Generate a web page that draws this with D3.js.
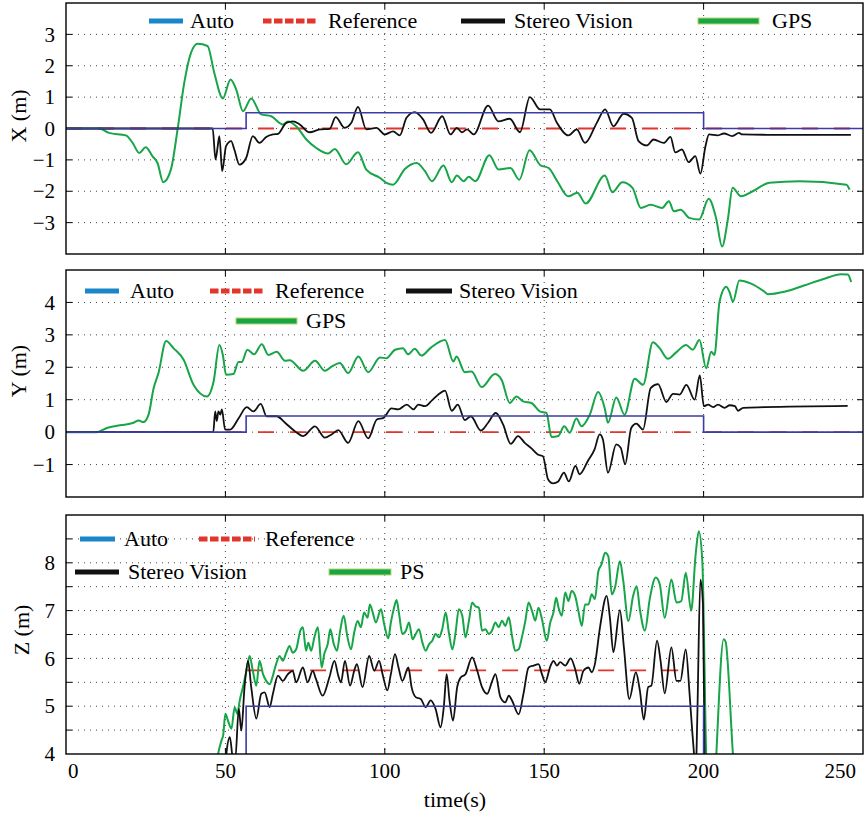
<!DOCTYPE html>
<html><head><meta charset="utf-8">
<script src="https://cdn.jsdelivr.net/npm/d3@7"></script>
<style>body{margin:0;background:#fff} svg{display:block}</style>
</head><body><svg id="c" width="864" height="820"></svg>
<script>
// ---------- DATA ----------
const timeTicks = [0, 50, 100, 150, 200, 250];
const seriesNames = ["Auto", "Reference", "Stereo Vision", "GPS"];
const zSeriesNames = ["Auto", "Reference", "Stereo Vision", "PS"];

const xTicks = [-3, -2, -1, 0, 1, 2, 3];
const yTicks = [-1, 0, 1, 2, 3, 4];
const zGrid = [4.5, 5, 5.5, 6, 6.5, 7, 7.5, 8, 8.5];
const zTicks = [4, 5, 6, 7, 8];

const xAuto = [[0,0],[56.5,0],[56.5,0.5],[200,0.5],[200,0],[250,0]];
const xRef = [[0,0],[250,0]];
const xStereo = [[0,0],[46,0],[46.9,-0.99],[47.6,-0.56],[48.1,-0.24],[49,-1.36],[50.2,-0.56],[51.8,-0.4],[52.8,-0.67],[54.4,-1.15],[56.5,-0.94],[58.6,-0.24],[60.7,-0.46],[62.8,-0.27],[64.9,-0.19],[66.5,-0.17],[69.1,0.18],[71.2,0.23],[73.3,0.13],[76.4,-0.12],[79.6,-0.03],[82.7,-0.01],[84.6,0.36],[87.4,0.02],[89.5,0.18],[91.6,0.69],[94.2,-0.03],[97.4,0.02],[100,-0.19],[102.6,-0.09],[104.7,-0.22],[106.8,0.34],[109.4,0.52],[112,0.29],[114.5,-0.14],[118,0.39],[120.6,-0.19],[122.6,0.02],[124.2,-0.12],[125.8,-0.03],[127.9,-0.19],[132.4,0.73],[135.6,0.23],[139.2,0.31],[142.4,-0.12],[145.5,1.0],[148.7,0.61],[151.8,0.61],[153.9,0.2],[157.6,-0.22],[160.2,-0.03],[162.8,-0.46],[166.5,0.18],[169.1,0.61],[171.7,0.07],[174.9,0.47],[177.5,0.34],[179.6,-0.4],[182.2,-0.54],[184.3,-0.35],[187.5,-0.46],[189.6,-0.27],[191.1,-0.76],[193.2,-0.67],[195.3,-1.07],[197.4,-0.88],[199,-1.44],[200.6,-0.56],[201.7,-0.19],[204.3,-0.22],[206.4,-0.16],[209,-0.24],[211.1,-0.14],[212.1,-0.19],[220,-0.2],[246.2,-0.2]];
const xGps = [[0,0],[10.4,0],[13.5,-0.14],[18.8,-0.22],[20.9,-0.46],[23,-0.78],[25,-0.6],[27.1,-0.88],[28.7,-1.1],[30.5,-1.71],[32.9,-1.31],[35,-0.03],[37.1,1.46],[39.2,2.41],[41.3,2.7],[44.4,2.63],[46.5,1.78],[49.2,0.96],[51.6,1.56],[53.4,1.24],[55.5,0.55],[58.1,0.96],[61.2,0.45],[64.4,0.39],[68,0.13],[69.6,0.22],[72.2,0.07],[75.4,-0.35],[78.5,-0.62],[82.2,-0.8],[84.3,-0.65],[87.9,-1.14],[91.6,-0.76],[94.2,-1.31],[98.4,-1.57],[100.5,-1.73],[102.6,-1.79],[106.3,-1.29],[110,-1.1],[112.6,-1.36],[114.8,-1.68],[118.4,-1.18],[121,-1.71],[122.6,-1.5],[124.7,-1.68],[126.3,-1.54],[128.4,-1.68],[132.8,-0.85],[135.7,-1.31],[139.4,-1.26],[142.2,-1.63],[145.4,-0.69],[148.8,-1.17],[151.4,-1.26],[154.1,-1.68],[157.5,-2.16],[160.4,-2.05],[163,-2.39],[169,-1.5],[171.4,-2.03],[174.5,-1.71],[177.7,-1.89],[180.3,-2.53],[183.4,-2.43],[187,-2.53],[189.1,-2.32],[190.7,-2.64],[192.8,-2.59],[195.5,-2.85],[198.6,-2.9],[201.6,-2.24],[203.9,-2.85],[205.8,-3.76],[207.6,-2.9],[209.1,-1.89],[211.7,-2.16],[215.4,-2.0],[220.6,-1.73],[230.1,-1.68],[244.8,-1.79],[245.8,-1.95]];

const yAuto = [[0,0],[56.5,0],[56.5,0.5],[200,0.5],[200,0],[250,0]];
const yRef = [[0,0],[250,0]];
const yStereo = [[0,0],[46.2,0],[46.8,0.64],[47.3,0.34],[47.8,0.64],[48.4,0.54],[48.9,0.7],[49.9,0.08],[51.5,0.08],[54.1,0.42],[56.7,0.77],[58.8,0.64],[61.1,0.87],[62.9,0.49],[66.1,0.49],[68.7,0.29],[71.8,0.03],[74.4,-0.12],[78.1,0.18],[81.2,-0.17],[83.3,-0.07],[85.4,0.06],[88.5,-0.33],[91.7,0.34],[94.8,-0.19],[97.5,0.39],[99.6,0.44],[102.1,0.73],[104.2,0.7],[106.9,0.85],[109,0.7],[110.5,0.85],[112.6,0.8],[114.8,0.98],[116.8,1.16],[118.9,1.28],[121,0.66],[122.9,0.85],[125.1,0.37],[127,0.49],[130.1,0.05],[132.4,0.29],[134.8,0.59],[137.1,0.24],[139.5,-0.36],[141.8,-0.12],[143.9,-0.33],[146,-0.5],[148,-0.69],[149.6,-0.74],[151.2,-1.45],[152.8,-1.58],[154.4,-1.52],[156.2,-1.25],[157.7,-1.52],[159.8,-1.04],[161.1,-1.3],[163.7,-0.89],[165.8,-0.53],[167.4,-0.07],[168.4,-0.22],[170,-1.25],[172.6,-0.38],[174,-0.48],[175.4,-0.99],[177.3,0.13],[178.9,0.26],[181,0.08],[183.4,1.36],[185.7,1.48],[188.3,0.93],[190.4,1.18],[192.5,1.16],[194.6,1.46],[197.2,1.0],[198.8,1.75],[200.1,0.8],[201.4,0.85],[203,0.77],[204.5,0.85],[206.6,0.75],[208.2,0.83],[209.8,0.8],[210.8,0.66],[212.4,0.75],[219.1,0.77],[245.2,0.81]];
const yGps = [[0,0],[9.7,0],[12.8,0.13],[17,0.21],[21.2,0.29],[22.8,0.36],[24.3,0.31],[25.9,0.54],[27.5,1.36],[29,1.82],[31.4,2.81],[33.7,2.59],[36.9,2.23],[40,1.46],[44.2,1.1],[46.3,1.56],[48.1,2.69],[49.2,2.38],[50.2,1.77],[52.5,1.79],[54.1,2.16],[55.1,2.16],[56.9,2.54],[59,2.4],[61.4,2.71],[63.5,2.38],[66.1,2.48],[68.7,2.2],[70.2,2.22],[74.4,1.89],[78.1,2.2],[81.2,1.89],[83.3,2.02],[85.9,2.13],[88.5,1.82],[91.7,2.33],[94.8,1.85],[98.5,2.3],[100.5,2.28],[103.2,2.54],[105.7,2.59],[107.3,2.4],[109.4,2.57],[111.5,2.36],[114.4,2.6],[118.9,2.84],[121.5,2.18],[122.5,2.33],[125.1,1.85],[127.2,1.87],[130.4,1.39],[134.5,1.79],[136.6,1.62],[139.2,0.9],[141.3,1.1],[143.4,0.95],[146,0.9],[148.6,0.64],[150.7,0.59],[152.3,-0.15],[154.4,-0.12],[156.3,0.18],[158,-0.02],[160.1,0.42],[161.7,0.18],[164.3,0.54],[166.9,1.24],[169,0.73],[170,0.29],[172.6,1.07],[175.2,0.54],[178.4,1.65],[181,1.46],[184.1,2.77],[186.2,2.59],[188.8,2.26],[191.4,2.46],[194.5,2.69],[196.6,2.54],[198.7,2.84],[200.8,1.97],[202.4,2.48],[203.4,2.38],[205,4.02],[207.1,4.48],[208.1,4.33],[209.2,4.02],[211.2,4.68],[214.9,4.58],[219.1,4.33],[220.2,4.25],[225.4,4.33],[231.7,4.53],[237.9,4.73],[243.1,4.87],[245.2,4.86],[246.3,4.63]];

const zAuto = [[0,0],[56.5,0],[56.5,5],[200,5],[200,0],[250,0]];
const zRef = [[56.5,5.75],[196,5.75]];
const zStereo = [[0,0],[45,0],[49.5,3.2],[50.3,4],[51.4,4.35],[52.4,3.9],[53.1,3.9],[54.2,4.95],[55,4.49],[56,5.4],[57.1,5.95],[58.1,5.4],[59.7,4.74],[61.25,5.26],[62.3,5.29],[63.9,4.98],[64.9,5.26],[66.5,5.64],[68,5.53],[69.6,5.67],[71.1,5.74],[72.2,5.5],[74.3,5.81],[75.8,5.5],[77.4,5.74],[78.4,5.57],[80.5,5.22],[82.6,5.6],[84.2,5.95],[85.4,5.64],[86.25,5.5],[87.5,5.95],[89.1,5.43],[90.4,5.74],[91.25,5.88],[93,5.4],[95.1,6.05],[96.7,5.74],[98.2,5.95],[99.3,5.67],[100.8,5.33],[101.9,5.67],[103.2,6.09],[104.3,5.81],[105.5,5.53],[107.4,5.81],[108.4,5.4],[109.7,5.19],[111.3,5.15],[112.8,4.98],[114.4,5.12],[115.9,4.95],[117.5,4.56],[118.5,4.98],[119.4,5.67],[120.3,5.12],[121.4,4.7],[122.7,5.4],[123.8,5.6],[125.3,5.67],[127.4,6.02],[129,5.74],[130.5,5.4],[132.1,5.26],[133.7,5.53],[134.7,5.67],[136.25,5.19],[137.8,5.08],[138.9,5.22],[139.9,5.12],[142,4.83],[143.5,5.26],[145.1,5.81],[146.7,5.85],[148.2,5.88],[149.3,5.67],[150.3,5.5],[151.9,5.83],[152.9,5.95],[154,5.85],[155,5.92],[156.6,5.85],[158.3,6.0],[159.7,5.78],[161,5.47],[162.3,5.74],[163.9,5.81],[164.9,5.71],[165.9,5.88],[167.5,6.65],[169.6,7.31],[170.6,6.86],[171.7,6.13],[173.75,7.01],[175,6.23],[176.7,5.15],[178.75,5.71],[180,5.33],[181.25,4.72],[182.6,5.4],[183.6,5.43],[185.4,6.37],[186.5,5.95],[187.8,5.27],[189.9,6.23],[191.5,5.53],[192.7,5.53],[194.4,6.19],[195.6,5.26],[196.5,4.42],[197,4],[197.5,3.5],[198,4.7],[199,7.65],[199.8,7.13],[200.3,4],[200.8,2.5]];
const zGps = [[45,2.5],[47.7,4.0],[48.8,4.29],[49.3,4.39],[50,4.84],[50.8,4.7],[51.9,4.53],[52.9,4.98],[53.75,4.84],[54.5,5.12],[55.5,5.4],[56.6,5.74],[57.6,6.05],[58.6,5.74],[59.7,5.43],[60.7,5.95],[61.8,5.67],[62.8,5.53],[63.9,5.46],[64.9,5.64],[65.9,5.88],[67,6.05],[68,5.95],[69.1,6.12],[70.1,6.26],[71.1,6.12],[72.2,6.19],[73.5,6.58],[74.3,6.65],[75.3,6.16],[76,6.33],[76.9,6.16],[77.9,6.44],[79,6.65],[80.2,5.81],[81,6.09],[82.1,6.3],[82.9,6.61],[84,6.3],[85,6.16],[86,6.58],[87.1,6.89],[88.3,6.44],[89.4,6.19],[90.4,6.54],[91.5,6.78],[92.5,6.65],[93.5,6.96],[94.6,6.85],[95.3,7.13],[96.1,6.99],[97.2,6.75],[98.8,7.03],[99.8,6.72],[101.1,6.42],[101.9,6.75],[102.9,7.06],[103.7,7.22],[104.5,6.92],[105.5,6.51],[106.6,6.58],[107.6,6.75],[108.7,6.4],[109.7,6.51],[110.7,6.61],[111.8,6.33],[112.8,6.16],[113.9,6.3],[114.9,6.37],[115.9,6.51],[117,6.44],[118,6.61],[119.1,6.96],[120.1,6.54],[121.2,6.19],[122.2,6.54],[123.2,7.03],[124.3,6.89],[125.3,6.44],[126.4,6.79],[127.4,7.17],[128.4,7.09],[129.5,7.06],[130.5,6.58],[131.6,6.61],[132.6,6.51],[133.6,6.58],[134.7,6.75],[135.7,6.65],[136.8,6.79],[137.8,6.68],[138.9,6.86],[139.9,6.47],[140.9,6.16],[142,6.19],[143,6.44],[144.1,6.79],[145.1,7.17],[146.2,6.99],[147.2,6.79],[148.2,7.06],[149.3,6.82],[150.8,6.37],[151.9,6.75],[152.9,6.96],[153.75,7.27],[154.5,7.06],[155.5,6.89],[156.6,7.38],[157.6,7.2],[158.6,7.41],[159.7,7.31],[160.7,7.0],[161.8,6.68],[162.8,7.13],[163.9,7.13],[164.9,7.34],[165.9,7.24],[167,7.83],[168,7.97],[169.1,8.21],[170.1,8.14],[171.2,7.34],[172.2,7.48],[173.75,8.03],[174.8,7.62],[176.4,6.78],[177.9,7.31],[179,7.51],[180,7.03],[181.6,6.58],[183.1,7.24],[185,7.69],[186.25,7.55],[187.8,6.85],[189.9,7.65],[191.5,7.17],[193,7.2],[194.4,7.79],[196.1,7.0],[197.5,8.17],[198.5,8.66],[199.6,8.03],[200.8,4.0],[201.8,2.5],[203,2.5],[204,4],[206.3,6.4],[206.9,6.35],[209.2,4],[211,2.5]];

// ---------- STYLE / LAYOUT ----------
const C = {auto:"#3c3ca6", autoLeg:"#1a86c8", ref:"#e2352b", stereo:"#111111", gps:"#17a548", gpsEdge:"#b9d66a"};
const FONT = "Liberation Serif, Times New Roman, serif";
const svg = d3.select("#c");
const x = d3.scaleLinear().domain([0, 250]).range([66, 863]);
const gridX = [50, 100, 150, 200];

const panels = [
  {id:"p1", top:3, bottom:254, dom:[-4,4], grid:xTicks, ticks:xTicks, label:"X (m)", labelY:116, labelX:26,
   data:{auto:xAuto, ref:xRef, stereo:xStereo, gps:xGps}, names:seriesNames,
   legend:[{k:"auto",x1:149,x2:183,y:21,tx:190},{k:"ref",x1:263,x2:317,y:21,tx:328},{k:"stereo",x1:461,x2:505,y:21,tx:514},{k:"gps",x1:698,x2:759,y:21,tx:772}]},
  {id:"p2", top:270, bottom:497, dom:[-2,5], grid:yTicks, ticks:yTicks, label:"Y (m)", labelY:371, labelX:26,
   data:{auto:yAuto, ref:yRef, stereo:yStereo, gps:yGps}, names:seriesNames,
   legend:[{k:"auto",x1:85,x2:119,y:291,tx:130},{k:"ref",x1:210,x2:265,y:291,tx:275},{k:"stereo",x1:406,x2:452,y:291,tx:459},{k:"gps",x1:236,x2:297,y:321,tx:306}]},
  {id:"p3", top:515, bottom:754, dom:[4,9], grid:zGrid, ticks:zTicks, label:"Z (m)", labelY:630, labelX:29,
   data:{auto:zAuto, ref:zRef, stereo:zStereo, gps:zGps}, names:zSeriesNames,
   legend:[{k:"auto",x1:80,x2:115,y:539,tx:124},{k:"ref",x1:199,x2:255,y:539,tx:265},{k:"stereo",x1:75,x2:119,y:572,tx:128},{k:"gps",x1:329,x2:391,y:572,tx:400}]}
];
const keyIdx = {auto:0, ref:1, stereo:2, gps:3};

panels.forEach(p => {
  const y = d3.scaleLinear().domain(p.dom).range([p.bottom, p.top]);
  const g = svg.append("g");
  const L = x.range()[0], R = x.range()[1];

  svg.append("clipPath").attr("id", "clip-" + p.id)
    .append("rect").attr("x", L).attr("y", p.top).attr("width", R - L).attr("height", p.bottom - p.top);

  // grid
  const grid = g.append("g").attr("stroke", "#444").attr("stroke-width", 1).attr("stroke-dasharray", "1,5");
  grid.selectAll(".gh").data(p.grid).enter().append("line")
    .attr("x1", L).attr("x2", R).attr("y1", d => y(d)).attr("y2", d => y(d));
  grid.selectAll(".gv").data(gridX).enter().append("line")
    .attr("x1", d => x(d)).attr("x2", d => x(d)).attr("y1", p.top).attr("y2", p.bottom);

  // ticks inward
  const tk = g.append("g").attr("stroke", "#000").attr("stroke-width", 1);
  p.grid.forEach(v => {
    tk.append("line").attr("x1", L).attr("x2", L + 6).attr("y1", y(v)).attr("y2", y(v));
    tk.append("line").attr("x1", R - 6).attr("x2", R).attr("y1", y(v)).attr("y2", y(v));
  });
  gridX.forEach(v => {
    tk.append("line").attr("x1", x(v)).attr("x2", x(v)).attr("y1", p.bottom).attr("y2", p.bottom - 6);
    tk.append("line").attr("x1", x(v)).attr("x2", x(v)).attr("y1", p.top).attr("y2", p.top + 6);
  });

  // y tick labels
  const fmt = d3.format("d");
  g.append("g").selectAll("text").data(p.ticks).enter().append("text")
    .attr("x", 55).attr("y", d => y(d)).attr("dy", "0.34em")
    .attr("text-anchor", "end").attr("font-family", FONT).attr("font-size", 21)
    .text(d => fmt(d));

  // y label
  g.append("text").attr("transform", `translate(${p.labelX},${p.labelY}) rotate(-90)`)
    .attr("text-anchor", "middle").attr("font-family", FONT).attr("font-size", 22).text(p.label);

  // lines
  const plot = g.append("g").attr("clip-path", `url(#clip-${p.id})`);
  const smooth = d3.line().x(d => x(d[0])).y(d => y(d[1])).curve(d3.curveMonotoneX);
  const straight = d3.line().x(d => x(d[0])).y(d => y(d[1]));
  plot.append("path").datum(p.data.ref).attr("d", straight).attr("fill", "none")
    .attr("stroke", C.ref).attr("stroke-width", 1.8).attr("stroke-dasharray", "16,16");
  plot.append("path").datum(p.data.gps).attr("d", smooth).attr("fill", "none")
    .attr("stroke", C.gps).attr("stroke-width", 2).attr("stroke-linejoin", "round");
  plot.append("path").datum(p.data.stereo).attr("d", smooth).attr("fill", "none")
    .attr("stroke", C.stereo).attr("stroke-width", 1.8).attr("stroke-linejoin", "round");
  plot.append("path").datum(p.data.auto).attr("d", straight).attr("fill", "none")
    .attr("stroke", C.auto).attr("stroke-width", 1.6);

  // legend
  const lg = g.append("g");
  p.legend.forEach(it => {
    if (it.k === "gps") {
      lg.append("rect").attr("x", it.x1).attr("y", it.y - 3).attr("width", it.x2 - it.x1).attr("height", 6)
        .attr("fill", C.gps).attr("stroke", C.gpsEdge).attr("stroke-width", 1);
    } else {
      const col = it.k === "auto" ? C.autoLeg : it.k === "ref" ? C.ref : C.stereo;
      const ln = lg.append("line").attr("x1", it.x1).attr("x2", it.x2).attr("y1", it.y).attr("y2", it.y)
        .attr("stroke", col).attr("stroke-width", 5);
      if (it.k === "ref") ln.attr("stroke-dasharray", "8.5,2.5");
    }
    lg.append("text").attr("x", it.tx).attr("y", it.y + 7).attr("font-family", FONT).attr("font-size", 22)
      .text(p.names[keyIdx[it.k]]);
  });

  // border
  g.append("rect").attr("x", L).attr("y", p.top).attr("width", R - L).attr("height", p.bottom - p.top)
    .attr("fill", "none").attr("stroke", "#000").attr("stroke-width", 1.4);

  // x tick labels only on last panel
  if (p.id === "p3") {
    g.append("g").selectAll("text").data(timeTicks).enter().append("text")
      .attr("x", d => d === 0 ? x(d) + 2 : d === 250 ? x(d) - 7 : x(d))
      .attr("y", p.bottom + 24)
      .attr("text-anchor", d => d === 0 ? "start" : d === 250 ? "end" : "middle")
      .attr("font-family", FONT).attr("font-size", 21).text(d => d);
    g.append("text").attr("x", 455).attr("y", 807).attr("text-anchor", "middle")
      .attr("font-family", FONT).attr("font-size", 22).text("time(s)");
  }
});
</script></body></html>
